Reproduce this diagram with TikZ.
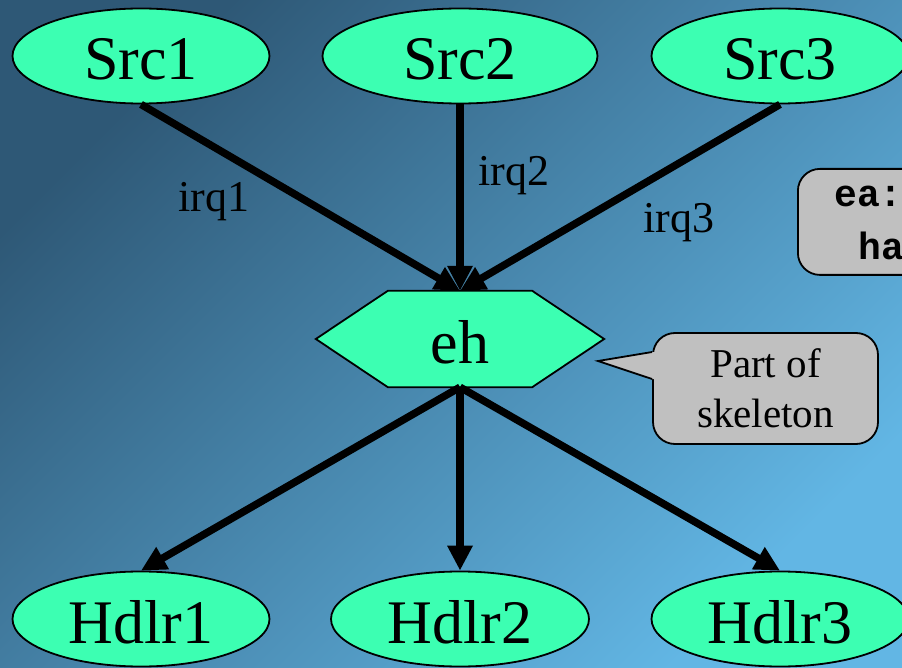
\documentclass[tikz,border=0pt]{standalone}
\usepackage{fontspec}
\setmainfont{Liberation Serif}
\newfontfamily\codefont{Liberation Mono}
\usetikzlibrary{arrows.meta,calc,shapes.geometric}
\pgfdeclarelayer{bg}
\pgfsetlayers{bg,main}
\definecolor{bgdark}{RGB}{46,88,118}
\definecolor{bglight}{RGB}{98,182,228}
\definecolor{nodegreen}{RGB}{60,255,178}
\definecolor{notegray}{RGB}{192,192,192}

\begin{document}
\begin{tikzpicture}[x=1pt,y=-1pt,
  every node/.style={inner sep=0pt},
  oval/.style={ellipse, draw=black, line width=1.8pt, fill=nodegreen,
    minimum width=257pt, minimum height=95pt,
    font=\fontsize{62}{62}\selectfont, text height=48pt, text depth=0pt},
  hexcore/.style={rectangle, minimum width=288pt, minimum height=96pt,
    font=\fontsize{62}{62}\selectfont, text height=48pt, text depth=0pt},
  flow/.style={line width=7.5pt, -{Triangle[length=25pt,width=24pt]}},
  lbl/.style={font=\fontsize{44}{44}\selectfont, anchor=base},
  note/.style={rectangle, rounded corners=22pt, draw=black, line width=1.8pt,
    fill=notegray, align=center},
  code/.style={font=\codefont\bfseries\fontsize{38}{38}\selectfont, anchor=base west},
]
\useasboundingbox (0,0) rectangle (902,668);
\clip (0,0) rectangle (902,668);

% source and handler nodes
\node[oval] (src1) at (141,56) {Src1};
\node[oval, minimum width=275pt] (src2) at (460,56) {Src2};
\node[oval] (src3) at (780,56) {Src3};
\node[oval] (h1) at (141,619) {Hdlr1};
\node[oval, minimum width=258pt] (h2) at (460,619) {Hdlr2};
\node[oval] (h3) at (780,619) {Hdlr3};

% event handler: text node, hexagon drawn behind it
\node[hexcore] (eh) at (460,339) {eh};

\begin{pgfonlayer}{bg}
  \shade[top color=bgdark, bottom color=bglight, shading angle=45]
    (0,0) rectangle (902,668);
  \filldraw[fill=nodegreen, draw=black, line width=1.8pt, line join=miter]
    (eh.west) -- ($(eh.north west)+(72,0)$) -- ($(eh.north east)+(-72,0)$)
    -- (eh.east) -- ($(eh.south east)+(-72,0)$) -- ($(eh.south west)+(72,0)$)
    -- cycle;
\end{pgfonlayer}

% interrupts into the handler
\draw[flow] (src1.south) -- (eh.north);
\draw[flow] (src2.south) -- (eh.north);
\draw[flow] (src3.south) -- (eh.north);
\node[lbl] (l1) at (214,212) {irq1};
\node[lbl] (l2) at (514,186) {irq2};
\node[lbl] (l3) at (679,233) {irq3};

% dispatch to the handlers
\draw[flow] (eh.south) -- (h1.north);
\draw[flow] (eh.south) -- (h2.north);
\draw[flow] (eh.south) -- (h3.north);

% callout
\node[note, minimum width=225pt, minimum height=111pt,
  font=\fontsize{41}{50}\selectfont] (skel) at (765.5,388.5) {Part of\\skeleton};
\coordinate (ptip) at (598,361);
\coordinate (pa) at ($(skel.west)+(0,-36.5)$);
\coordinate (pb) at ($(skel.west)+(0,-9.5)$);
\fill[notegray] (pa) -- (ptip) -- (pb) -- ($(pb)+(3,0)$) -- ($(pa)+(3,0)$) -- cycle;
\draw[line width=1.8pt, line join=miter] (pa) -- (ptip) -- (pb);

% code box at the right edge
\node[note, minimum width=200pt, minimum height=106pt, anchor=north west]
  (eabox) at (797,168) {};
\node[code] (ea1) at (834,207) {ea:};
\node[code] (ea2) at (858,260) {ha};
\end{tikzpicture}
\end{document}
